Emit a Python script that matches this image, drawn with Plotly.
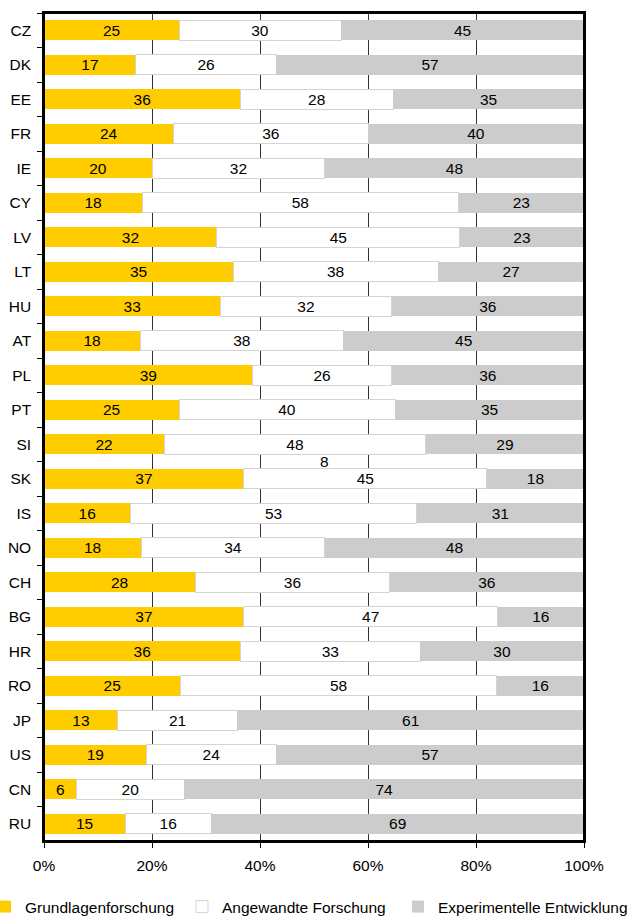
import plotly.graph_objects as go

countries = ["CZ", "DK", "EE", "FR", "IE", "CY", "LV", "LT", "HU", "AT", "PL", "PT",
             "SI", "SK", "IS", "NO", "CH", "BG", "HR", "RO", "JP", "US", "CN", "RU"]
grundlagen = [25, 17, 36, 24, 20, 18, 32, 35, 33, 18, 39, 25,
              22, 37, 16, 18, 28, 37, 36, 25, 13, 19, 6, 15]
angewandte = [30, 26, 28, 36, 32, 58, 45, 38, 32, 38, 26, 40,
              48, 45, 53, 34, 36, 47, 33, 58, 21, 24, 20, 16]
experimentell = [45, 57, 35, 40, 48, 23, 23, 27, 36, 45, 36, 35,
                 29, 18, 31, 48, 36, 16, 30, 16, 61, 57, 74, 69]
series_names = ["Grundlagenforschung", "Angewandte Forschung", "Experimentelle Entwicklung"]
x_ticks = [0, 20, 40, 60, 80, 100]
x_tick_labels = ["0%", "20%", "40%", "60%", "80%", "100%"]
# stray data label in the original chart (between SI and SK)
stray_label_text = "8"
stray_label_x = 52
stray_label_y = 12.5

FONT = "Liberation Sans, Arial, sans-serif"
colors = ["#FFCC00", "#FFFFFF", "#CCCCCC"]
line_colors = ["#FFCC00", "#D4D4D4", "#CCCCCC"]
line_widths = [0, 1, 0]

fig = go.Figure()
legends = ["legend", "legend2", "legend3"]
for vals, name, col, lc, lw, lg in zip([grundlagen, angewandte, experimentell], series_names,
                                       colors, line_colors, line_widths, legends):
    fig.add_trace(go.Bar(
        y=countries, x=vals, name=name, orientation="h",
        marker=dict(color=col, line=dict(color=lc, width=lw)),
        text=vals, texttemplate="%{text}", textposition="inside",
        insidetextanchor="middle", textangle=0, constraintext="none",
        textfont=dict(family=FONT, size=15.5, color="black"),
        legend=lg, hoverinfo="skip",
    ))

fig.add_annotation(x=stray_label_x, y=stray_label_y, xref="x", yref="y",
                   text=stray_label_text, showarrow=False,
                   font=dict(family=FONT, size=15.5, color="black"))

# plot-area frame
fig.add_shape(type="rect", xref="paper", yref="paper", x0=0, x1=1, y0=0, y1=1,
              line=dict(color="black", width=2), fillcolor="rgba(0,0,0,0)", layer="above")

n = len(countries)
W, H = 632, 917
ML, MT = 44, 13
PW = 540
PH = 828
fig.update_layout(
    barmode="stack", barnorm="percent", bargap=0.43,
    width=W, height=H,
    margin=dict(l=ML, r=W - ML - PW, t=MT, b=H - MT - PH, autoexpand=False),
    plot_bgcolor="white", paper_bgcolor="white",
    font=dict(family=FONT, size=15.5, color="black"),
    xaxis=dict(range=[0, 100], tickmode="array", tickvals=x_ticks, ticktext=x_tick_labels,
               showgrid=True, gridcolor="#333333", gridwidth=1,
               showline=True, mirror=True, linecolor="black", linewidth=1.5,
               ticks="outside", ticklen=5, tickcolor="black",
               ticklabelstandoff=5, zeroline=False,
               tickfont=dict(family=FONT, size=15.5, color="black")),
    yaxis=dict(type="category", categoryarray=countries, range=[n - 0.5, -0.5],
               showgrid=False, showline=True, mirror=True, linecolor="black", linewidth=1.5,
               ticks="outside", ticklen=5, tickcolor="black", tickson="boundaries",
               ticklabelstandoff=8,
               tickfont=dict(family=FONT, size=15.5, color="black")),
    showlegend=True,
)
leg_y = (PH - (907 - MT)) / PH
leg_common = dict(orientation="h", yanchor="middle", y=leg_y, xanchor="left",
                  font=dict(family=FONT, size=15.5, color="black"),
                  bgcolor="rgba(0,0,0,0)", itemwidth=30)
fig.update_layout(
    legend=dict(x=(-15 - ML) / PW, **leg_common),
    legend2=dict(x=(182 - ML) / PW, **leg_common),
    legend3=dict(x=(398 - ML) / PW, **leg_common),
)
fig.write_html("out.html", config={"displayModeBar": False},
               post_script="document.body.style.margin='0';document.body.style.padding='0';")
